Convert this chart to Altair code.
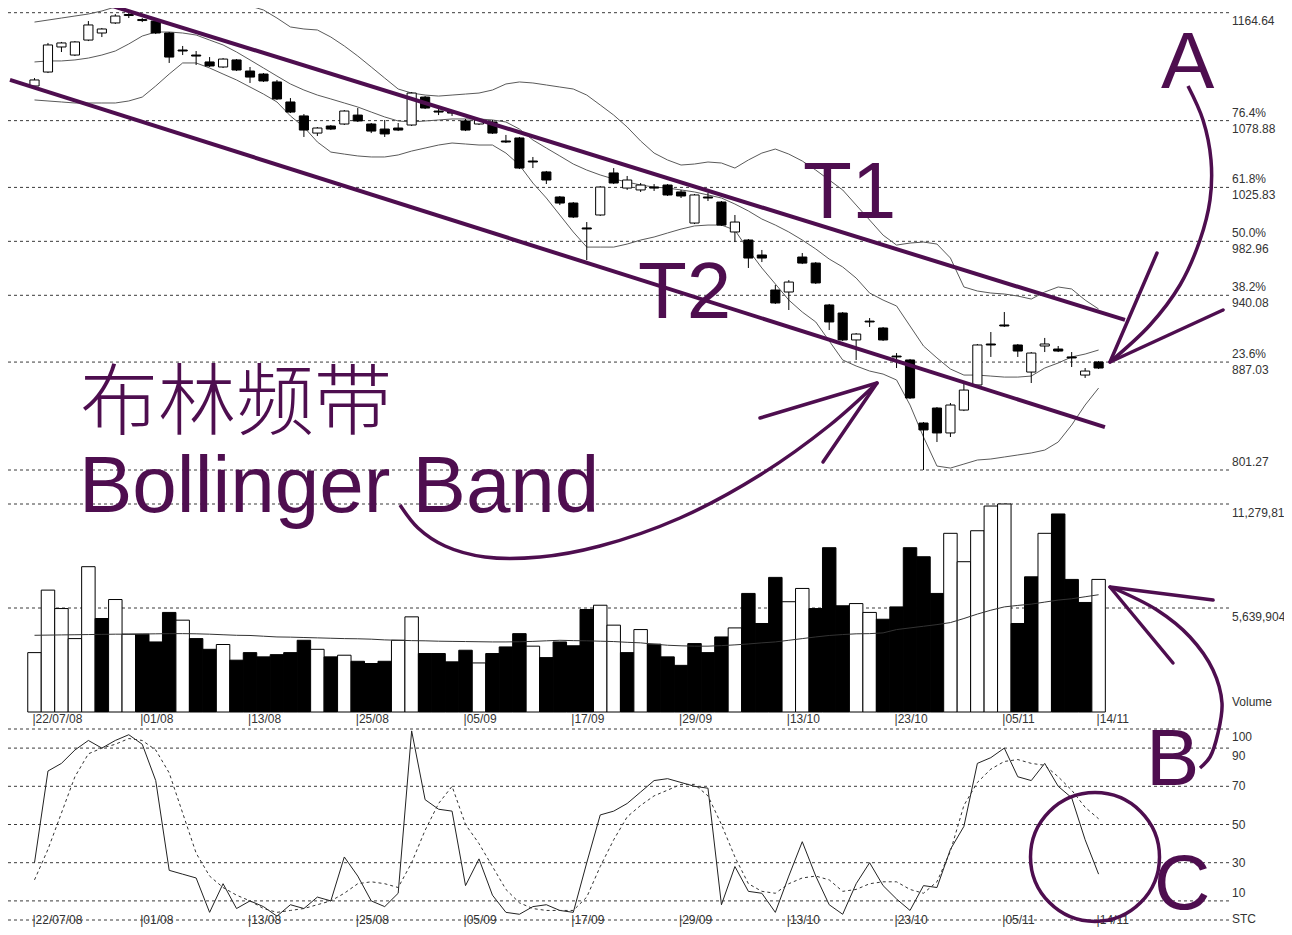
import altair as alt
import pandas as pd

# ---------------- data ----------------
OPEN = [1106.4, 1117.5, 1137.4, 1131.0, 1142.9, 1148.5, 1156.5, 1162.4, 1158.4, 1158.0,
        1148.5, 1135.0, 1131.0, 1125.5, 1121.5, 1127.1, 1118.3, 1115.9, 1109.6, 1093.7,
        1082.6, 1069.0, 1074.6, 1076.2, 1083.3, 1076.2, 1072.2, 1073.0, 1075.4, 1097.6,
        1086.5, 1085.7, 1078.6, 1076.2, 1077.8, 1062.7, 1065.1, 1046.8, 1038.1, 1018.2,
        1013.4, 993.6, 1003.9, 1037.3, 1025.3, 1023.8, 1026.1, 1027.7, 1022.2, 997.5,
        1018.2, 1014.2, 990.4, 984.0, 972.1, 944.3, 942.7, 970.5, 965.7, 932.4,
        926.0, 904.6, 919.6, 914.1, 891.8, 888.7, 838.6, 850.5, 830.7, 848.9,
        868.8, 901.4, 916.5, 900.6, 879.1, 899.8, 897.4, 891.1, 876.7, 887.1]
HIGH = [1112.7, 1140.6, 1141.4, 1142.1, 1158.0, 1152.5, 1163.5, 1164.6, 1160.4, 1158.8,
        1149.3, 1138.2, 1134.2, 1129.4, 1128.6, 1127.8, 1121.5, 1116.7, 1111.2, 1096.8,
        1084.1, 1073.8, 1075.4, 1087.3, 1088.9, 1077.0, 1079.4, 1077.0, 1101.6, 1098.4,
        1088.9, 1087.3, 1080.2, 1080.2, 1079.4, 1067.5, 1065.9, 1050.0, 1038.9, 1019.0,
        1014.2, 998.3, 1026.9, 1041.2, 1034.9, 1029.3, 1028.5, 1028.5, 1023.8, 1020.6,
        1021.4, 1015.0, 1003.9, 984.8, 976.1, 948.3, 952.2, 973.7, 966.5, 933.2,
        926.8, 910.1, 922.0, 914.9, 894.2, 889.5, 839.4, 851.3, 854.5, 870.4,
        901.4, 910.9, 926.8, 901.4, 895.0, 906.2, 899.8, 895.0, 882.3, 887.9]
LOW = [1104.8, 1116.7, 1133.4, 1130.2, 1142.1, 1145.3, 1155.7, 1160.4, 1157.2, 1147.7,
       1124.7, 1131.0, 1123.1, 1121.5, 1120.7, 1118.3, 1108.8, 1109.6, 1095.3, 1084.9,
       1065.9, 1066.7, 1071.4, 1075.4, 1077.8, 1069.0, 1065.9, 1070.6, 1074.6, 1088.1,
       1083.3, 1082.6, 1070.6, 1075.4, 1068.3, 1061.1, 1040.4, 1041.2, 1028.5, 1011.8,
       1001.5, 968.1, 1003.1, 1028.5, 1023.8, 1022.2, 1023.0, 1019.0, 1017.4, 996.7,
       1015.0, 995.2, 982.4, 961.8, 966.5, 933.2, 928.4, 964.9, 949.1, 912.5,
       903.8, 888.7, 914.9, 903.8, 882.3, 857.7, 801.3, 823.5, 827.5, 848.1,
       868.0, 891.1, 914.9, 891.1, 870.4, 895.0, 895.0, 883.1, 874.4, 881.5]
CLOSE = [1111.2, 1139.0, 1140.6, 1141.4, 1154.9, 1151.7, 1162.0, 1163.2, 1159.2, 1148.5,
         1129.4, 1134.2, 1130.2, 1122.3, 1127.8, 1119.1, 1113.5, 1110.4, 1096.1, 1085.7,
         1071.4, 1073.0, 1072.2, 1086.5, 1078.6, 1070.6, 1068.3, 1071.4, 1100.8, 1088.9,
         1085.7, 1084.9, 1071.4, 1079.4, 1069.0, 1061.9, 1041.2, 1046.0, 1031.7, 1013.4,
         1002.3, 992.8, 1026.1, 1029.3, 1031.7, 1027.7, 1025.3, 1019.8, 1019.0, 1019.8,
         1017.4, 995.9, 998.3, 969.7, 969.7, 934.0, 950.6, 965.7, 949.9, 918.9,
         904.6, 909.3, 918.9, 904.6, 891.1, 858.5, 833.1, 830.7, 852.9, 864.8,
         900.6, 900.6, 915.7, 895.8, 894.2, 901.4, 895.8, 890.3, 879.9, 882.3]

BB_UPPER = [1157.2, 1158.8, 1160.4, 1162.0, 1163.6, 1166.0, 1169.2, 1174.7, 1178.7, 1180.3,
            1177.1, 1173.1, 1170.8, 1171.5, 1172.3, 1172.3, 1170.0, 1166.8, 1160.4, 1153.3,
            1151.7, 1150.9, 1145.3, 1138.2, 1130.2, 1121.5, 1112.7, 1104.0, 1100.8, 1099.2,
            1098.4, 1099.2, 1100.0, 1100.8, 1103.2, 1108.0, 1109.6, 1108.8, 1107.2, 1105.6,
            1104.0, 1099.2, 1091.3, 1083.3, 1073.8, 1062.7, 1053.1, 1047.6, 1043.6, 1044.4,
            1046.0, 1045.2, 1041.2, 1047.6, 1053.1, 1056.3, 1052.3, 1046.8, 1039.6, 1031.7,
            1023.8, 1011.8, 999.9, 987.9, 980.0, 981.6, 982.4, 980.8, 969.7, 946.7,
            943.5, 941.9, 941.1, 939.5, 937.1, 942.7, 946.7, 945.1, 936.3, 929.2]
BB_MIDDLE = [1125.5, 1126.3, 1126.3, 1127.1, 1128.6, 1131.0, 1134.2, 1139.8, 1146.1, 1149.3,
             1149.3, 1148.5, 1146.9, 1142.9, 1139.0, 1133.4, 1127.1, 1120.7, 1114.3, 1108.0,
             1103.2, 1099.2, 1096.1, 1092.9, 1089.7, 1085.7, 1081.8, 1078.6, 1077.8, 1078.6,
             1079.4, 1080.2, 1080.2, 1080.2, 1079.4, 1077.8, 1072.2, 1063.5, 1057.1, 1050.8,
             1044.4, 1039.6, 1035.7, 1032.5, 1030.1, 1027.7, 1026.1, 1025.3, 1023.8, 1022.2,
             1019.8, 1017.4, 1012.6, 1007.1, 1000.7, 995.9, 990.4, 984.0, 976.9, 968.9,
             962.6, 953.8, 941.9, 936.3, 931.6, 915.7, 899.8, 890.3, 881.5, 876.7,
             876.7, 875.9, 875.1, 875.1, 875.9, 882.3, 886.3, 891.1, 893.4, 896.6]
BB_LOWER = [1095.3, 1094.5, 1093.7, 1092.9, 1092.9, 1092.9, 1092.9, 1094.5, 1097.6, 1106.4,
            1115.9, 1124.7, 1124.7, 1120.7, 1115.9, 1111.2, 1105.6, 1100.0, 1093.7, 1082.6,
            1073.8, 1061.9, 1053.9, 1052.3, 1050.8, 1050.0, 1050.0, 1051.6, 1054.7, 1057.1,
            1059.5, 1061.1, 1060.3, 1059.5, 1059.5, 1053.1, 1043.6, 1029.3, 1017.4, 1003.9,
            990.4, 978.4, 978.4, 978.4, 980.8, 984.0, 986.4, 989.6, 992.7, 995.2,
            995.9, 995.9, 991.9, 976.1, 961.8, 949.1, 936.3, 926.8, 918.9, 903.8,
            888.7, 883.9, 879.9, 877.5, 872.8, 852.9, 827.5, 804.4, 802.8, 806.0,
            809.2, 810.0, 811.6, 813.2, 814.8, 817.1, 823.5, 837.0, 852.9, 866.4]

VOLUME_M = [3.22, 6.61, 5.61, 3.98, 7.88, 5.07, 6.10, 4.22, 4.22, 3.80,
            5.40, 4.98, 3.98, 3.40, 3.66, 2.81, 3.22, 2.99, 3.11, 3.22,
            3.89, 3.40, 2.99, 3.08, 2.75, 2.63, 2.75, 3.89, 5.16, 3.17,
            3.17, 2.72, 3.35, 2.66, 3.17, 3.53, 4.25, 3.57, 2.95, 3.80,
            3.59, 5.56, 5.79, 4.71, 3.22, 4.47, 3.68, 2.99, 2.53, 3.71,
            3.22, 4.07, 4.56, 6.43, 4.80, 7.30, 5.98, 6.70, 5.61, 8.91,
            5.76, 5.88, 5.40, 5.03, 5.70, 8.91, 8.42, 6.43, 9.69, 8.15,
            9.83, 11.17, 11.28, 4.80, 7.33, 9.69, 10.74, 7.19, 5.94, 7.19]
VOLUME_UP = "WWWWWBWWBBBWBBWBBBBBBWBWBBBWWBBBBWBBBWBBBBWWBWBBBBBBWBBBWWBBBWWBBBBBWWWWWBBWBBBW"
VOLUME_MA_M = [4.16, 4.17, 4.18, 4.19, 4.20, 4.21, 4.22, 4.22, 4.23, 4.24,
               4.25, 4.25, 4.24, 4.22, 4.19, 4.16, 4.15, 4.11, 4.07, 4.06,
               4.04, 4.02, 4.00, 3.98, 3.97, 3.95, 3.91, 3.89, 3.87, 3.86,
               3.84, 3.83, 3.82, 3.81, 3.80, 3.80, 3.81, 3.83, 3.86, 3.89,
               3.87, 3.86, 3.84, 3.82, 3.78, 3.75, 3.68, 3.62, 3.59, 3.57,
               3.57, 3.60, 3.64, 3.69, 3.75, 3.80, 3.89, 3.98, 4.07, 4.15,
               4.20, 4.24, 4.25, 4.29, 4.47, 4.56, 4.65, 4.74, 4.85, 5.07,
               5.31, 5.52, 5.70, 5.78, 5.85, 5.96, 6.07, 6.14, 6.25, 6.36]

STC_K = [30, 78, 82, 89, 94, 90, 94, 97, 92, 73,
         26, 24, 22, 4, 19, 6, 10, 7, 2, 8,
         6, 12, 10, 33, 23, 10, 7, 14, 99, 63,
         58, 57, 18, 32, 13, 4, 3, 7, 8, 5,
         4, 30, 55, 57, 61, 67, 73, 74, 72, 70,
         69, 8, 28, 15, 14, 4, 23, 41, 23, 8,
         3, 19, 30, 18, 11, 5, 18, 17, 37, 49,
         82, 85, 90, 75, 73, 82, 70, 64, 42, 24]
STC_D = [21, 37, 56, 75, 87, 90, 92, 95, 94, 89,
         77, 56, 35, 23, 17, 13, 10, 6, 4, 5,
         6, 8, 10, 14, 19, 20, 19, 17, 30, 47,
         61, 70, 50, 40, 28, 16, 9, 6, 5, 5,
         5, 12, 28, 42, 54, 60, 65, 68, 71, 71,
         65, 50, 33, 19, 15, 14, 19, 22, 23, 21,
         15, 16, 19, 20, 20, 16, 14, 20, 36, 60,
         72, 79, 83, 84, 82, 81, 75, 68, 59, 53]

DATE_IDX = [0, 8, 16, 24, 32, 40, 48, 56, 64, 72, 79]
DATE_LABELS = ["22/07/08", "01/08", "13/08", "25/08", "05/09", "17/09",
               "29/09", "13/10", "23/10", "05/11", "14/11"]

PRICE_LEVELS = [1164.64, 1078.88, 1025.83, 982.96, 940.08, 887.03, 801.27]
PRICE_LABELS = ["1164.64", "1078.88", "1025.83", "982.96", "940.08", "887.03", "801.27"]
FIB_LEVELS = [1078.88, 1025.83, 982.96, 940.08, 887.03]
FIB_LABELS = ["76.4%", "61.8%", "50.0%", "38.2%", "23.6%"]
VOL_LEVELS = [11279808, 5639904]
VOL_LABELS = ["11,279,81", "5,639,904"]
STC_LEVELS = [100, 90, 70, 50, 30, 10, 0]
STC_LABELS = ["100", "90", "70", "50", "30", "10", "STC"]

# trend lines (bar index, price)
T1_IDX = [4.34, 80.96]
T1_PRICE = [1174.7, 920.5]
T2_IDX = [-1.82, 79.47]
T2_PRICE = [1111.2, 835.4]

# hand-drawn annotation strokes (page pixel coordinates)
ARC_BB_X = [400, 418, 445, 485, 540, 600, 680, 760, 830, 877]
ARC_BB_Y = [505, 528, 546, 557, 557, 546, 518, 475, 425, 383]
ARC_A_X = [1188, 1203, 1211, 1210, 1200, 1180, 1150, 1110]
ARC_A_Y = [86, 120, 160, 200, 240, 285, 325, 362]
ARC_B_X = [1113, 1157, 1190, 1213, 1222, 1218, 1210, 1200]
ARC_B_Y = [588, 610, 637, 670, 703, 733, 757, 768]
BARB_X1 = [877, 877, 1110, 1110, 1110, 1110]
BARB_Y1 = [383, 383, 362, 362, 587, 587]
BARB_X2 = [760, 823, 1157, 1223, 1213, 1173]
BARB_Y2 = [418, 462, 253, 310, 600, 663]
CIRCLE_X = [1095]
CIRCLE_Y = [857]
BIG_TEXT = ["T1", "T2", "A", "B", "C", "Bollinger Band"]
BIG_TEXT_X = [803, 638, 1161, 1146, 1154, 79]
BIG_TEXT_Y = [218, 318, 88, 785, 909, 512]
BIG_TEXT_SIZE = [80, 80, 80, 80, 78, 80]
CN_TEXT = ["布林频带"]
CN_TEXT_X = [80]
CN_TEXT_Y = [429]

# ---------------- tables ----------------
PURPLE = "#4e0e4f"
SMALL_FONT = "Liberation Sans"
W, H = 1276, 919

n = len(CLOSE)
bars = pd.DataFrame({"i": list(range(n)), "open": OPEN, "high": HIGH, "low": LOW, "close": CLOSE})
bars["lo"] = bars[["open", "close"]].min(axis=1)
bars["hi"] = bars[["open", "close"]].max(axis=1)
bars["col"] = ["w" if c >= o else "b" for o, c in zip(OPEN, CLOSE)]
bars["x0"] = bars["i"] - 0.34
bars["x1"] = bars["i"] + 0.34
bars["v0"] = bars["i"] - 0.5
bars["v1"] = bars["i"] + 0.5
bars["vol"] = [v * 1e6 for v in VOLUME_M]
bars["vcol"] = ["w" if u == "W" else "b" for u in VOLUME_UP]
bars["zero"] = 0
bars["vma"] = [v * 1e6 for v in VOLUME_MA_M]
bars["k"] = STC_K
bars["d"] = STC_D

bands = pd.concat([
    pd.DataFrame({"i": list(range(n)), "p": BB_UPPER, "band": "upper"}),
    pd.DataFrame({"i": list(range(n)), "p": BB_MIDDLE, "band": "middle"}),
    pd.DataFrame({"i": list(range(n)), "p": BB_LOWER, "band": "lower"}),
])

dates = pd.DataFrame({"i": DATE_IDX, "lab": ["|" + d for d in DATE_LABELS]})

trend = pd.concat([
    pd.DataFrame({"i": T1_IDX, "p": T1_PRICE, "name": "T1"}),
    pd.DataFrame({"i": T2_IDX, "p": T2_PRICE, "name": "T2"}),
])

arcs = pd.concat([
    pd.DataFrame({"ax": ARC_BB_X, "ay": ARC_BB_Y, "arc": "bb", "k": list(range(len(ARC_BB_X)))}),
    pd.DataFrame({"ax": ARC_A_X, "ay": ARC_A_Y, "arc": "a", "k": list(range(len(ARC_A_X)))}),
    pd.DataFrame({"ax": ARC_B_X, "ay": ARC_B_Y, "arc": "b", "k": list(range(len(ARC_B_X)))}),
])
barbs = pd.DataFrame({"x1": BARB_X1, "y1": BARB_Y1, "x2": BARB_X2, "y2": BARB_Y2})
circle = pd.DataFrame({"ax": CIRCLE_X, "ay": CIRCLE_Y})
big = pd.DataFrame({"t": BIG_TEXT, "ax": BIG_TEXT_X, "ay": BIG_TEXT_Y, "s": BIG_TEXT_SIZE})
cn = pd.DataFrame({"t": CN_TEXT, "ax": CN_TEXT_X, "ay": CN_TEXT_Y})

# ---------------- scales (plot area starts at page 8,8) ----------------
XS = alt.Scale(domain=[0, 79], range=[26.5, 1090.6], nice=False, zero=False)
YP = alt.Scale(domain=[801.27, 1164.64], range=[462, 4.7], nice=False, zero=False)
YV = alt.Scale(domain=[0, 11279808], range=[704, 496], nice=False, zero=False)
YS = alt.Scale(domain=[0, 100], range=[912, 721], nice=False, zero=False)
AXS = alt.Scale(domain=[8, 1284], range=[0, 1276], nice=False, zero=False)
AYS = alt.Scale(domain=[8, 927], range=[0, 919], nice=False, zero=False)
FILL = alt.Scale(domain=["w", "b"], range=["#ffffff", "#000000"])


def xq(f, s=XS):
    return alt.X(f, type="quantitative", scale=s, axis=None)


def yq(f, s):
    return alt.Y(f, type="quantitative", scale=s, axis=None)


layers = []

# gridlines
grid_style = dict(color="#3a3a3a", strokeWidth=1, strokeDash=[3, 3])
layers.append(alt.Chart(pd.DataFrame({"lvl": PRICE_LEVELS})).mark_rule(**grid_style).encode(
    y=yq("lvl", YP), x=alt.value(0), x2=alt.value(1222)))
layers.append(alt.Chart(pd.DataFrame({"lvl": VOL_LEVELS})).mark_rule(**grid_style).encode(
    y=yq("lvl", YV), x=alt.value(0), x2=alt.value(1222)))
layers.append(alt.Chart(pd.DataFrame({"lvl": STC_LEVELS})).mark_rule(**grid_style).encode(
    y=yq("lvl", YS), x=alt.value(0), x2=alt.value(1222)))

# Bollinger bands
layers.append(alt.Chart(bands).mark_line(color="#5a5a5a", strokeWidth=1).encode(
    x=xq("i"), y=yq("p", YP), detail="band:N"))

# candles
layers.append(alt.Chart(bars).mark_rule(color="#000000", strokeWidth=1).encode(
    x=xq("i"), y=yq("low", YP), y2="high:Q"))
layers.append(alt.Chart(bars).mark_rect(stroke="#000000", strokeWidth=1).encode(
    x=xq("x0"), x2="x1:Q", y=yq("lo", YP), y2="hi:Q",
    fill=alt.Fill("col:N", scale=FILL, legend=None)))

# volume
layers.append(alt.Chart(bars).mark_rect(stroke="#000000", strokeWidth=1).encode(
    x=xq("v0"), x2="v1:Q", y=yq("zero", YV), y2="vol:Q",
    fill=alt.Fill("vcol:N", scale=FILL, legend=None)))
layers.append(alt.Chart(bars).mark_line(color="#333333", strokeWidth=1).encode(
    x=xq("i"), y=yq("vma", YV)))

# stochastic
layers.append(alt.Chart(bars).mark_line(color="#222222", strokeWidth=1).encode(
    x=xq("i"), y=yq("k", YS)))
layers.append(alt.Chart(bars).mark_line(color="#333333", strokeWidth=1, strokeDash=[3, 3]).encode(
    x=xq("i"), y=yq("d", YS)))

# date labels
lab_style = dict(font=SMALL_FONT, fontSize=12, color="#333333", align="left", baseline="middle")
layers.append(alt.Chart(dates).mark_text(dx=-2, **lab_style).encode(
    x=xq("i"), y=alt.value(711), text="lab:N"))
layers.append(alt.Chart(dates).mark_text(dx=-2, **lab_style).encode(
    x=xq("i"), y=alt.value(912), text="lab:N"))

# right-hand labels
price_lab = pd.DataFrame({"lvl": PRICE_LEVELS[:-1], "t": PRICE_LABELS[:-1]})
layers.append(alt.Chart(price_lab).mark_text(dy=8, **lab_style).encode(
    x=alt.value(1224), y=yq("lvl", YP), text="t:N"))
layers.append(alt.Chart(pd.DataFrame({"lvl": PRICE_LEVELS[-1:], "t": PRICE_LABELS[-1:]})).mark_text(
    dy=-8, **lab_style).encode(x=alt.value(1224), y=yq("lvl", YP), text="t:N"))
layers.append(alt.Chart(pd.DataFrame({"lvl": FIB_LEVELS, "t": FIB_LABELS})).mark_text(
    dy=-8, **lab_style).encode(x=alt.value(1224), y=yq("lvl", YP), text="t:N"))
layers.append(alt.Chart(pd.DataFrame({"lvl": VOL_LEVELS, "t": VOL_LABELS})).mark_text(
    dy=9, **lab_style).encode(x=alt.value(1224), y=yq("lvl", YV), text="t:N"))
layers.append(alt.Chart(pd.DataFrame({"lvl": [0], "t": ["Volume"]})).mark_text(
    dy=-10, **lab_style).encode(x=alt.value(1224), y=yq("lvl", YV), text="t:N"))
layers.append(alt.Chart(pd.DataFrame({"lvl": STC_LEVELS[:2], "t": STC_LABELS[:2]})).mark_text(
    dy=8, **lab_style).encode(x=alt.value(1224), y=yq("lvl", YS), text="t:N"))
layers.append(alt.Chart(pd.DataFrame({"lvl": STC_LEVELS[2:5], "t": STC_LABELS[2:5]})).mark_text(
    dy=0, **lab_style).encode(x=alt.value(1224), y=yq("lvl", YS), text="t:N"))
layers.append(alt.Chart(pd.DataFrame({"lvl": STC_LEVELS[5:6], "t": STC_LABELS[5:6]})).mark_text(
    dy=-8, **lab_style).encode(x=alt.value(1224), y=yq("lvl", YS), text="t:N"))
layers.append(alt.Chart(pd.DataFrame({"lvl": STC_LEVELS[6:], "t": STC_LABELS[6:]})).mark_text(
    dy=-1, **lab_style).encode(x=alt.value(1224), y=yq("lvl", YS), text="t:N"))

# annotations
layers.append(alt.Chart(trend).mark_line(color=PURPLE, strokeWidth=4).encode(
    x=xq("i"), y=yq("p", YP), detail="name:N"))
layers.append(alt.Chart(arcs).mark_line(color=PURPLE, strokeWidth=3.5, interpolate="catmull-rom").encode(
    x=xq("ax", AXS), y=yq("ay", AYS), detail="arc:N", order="k:Q"))
layers.append(alt.Chart(barbs).mark_rule(color=PURPLE, strokeWidth=3.5, strokeCap="round").encode(
    x=xq("x1", AXS), y=yq("y1", AYS), x2="x2:Q", y2="y2:Q"))
layers.append(alt.Chart(circle).mark_point(shape="circle", filled=False, size=16641,
                                           strokeWidth=3.5, color=PURPLE, opacity=1).encode(
    x=xq("ax", AXS), y=yq("ay", AYS)))
layers.append(alt.Chart(big).mark_text(font="Liberation Sans", color=PURPLE, align="left",
                                       baseline="alphabetic").encode(
    x=xq("ax", AXS), y=yq("ay", AYS), text="t:N",
    size=alt.Size("s:Q", scale=None, legend=None)))
layers.append(alt.Chart(cn).mark_text(font="Noto Sans CJK SC", fontWeight=300, fontSize=78,
                                      color=PURPLE, align="left", baseline="alphabetic").encode(
    x=xq("ax", AXS), y=yq("ay", AYS), text="t:N"))

chart = alt.layer(*layers).resolve_scale(x="independent", y="independent").properties(
    width=W, height=H, padding=0, autosize=alt.AutoSizeParams(type="none")
).configure_view(stroke="transparent")

chart.save("out.html", embed_options={"renderer": "svg", "actions": False})
